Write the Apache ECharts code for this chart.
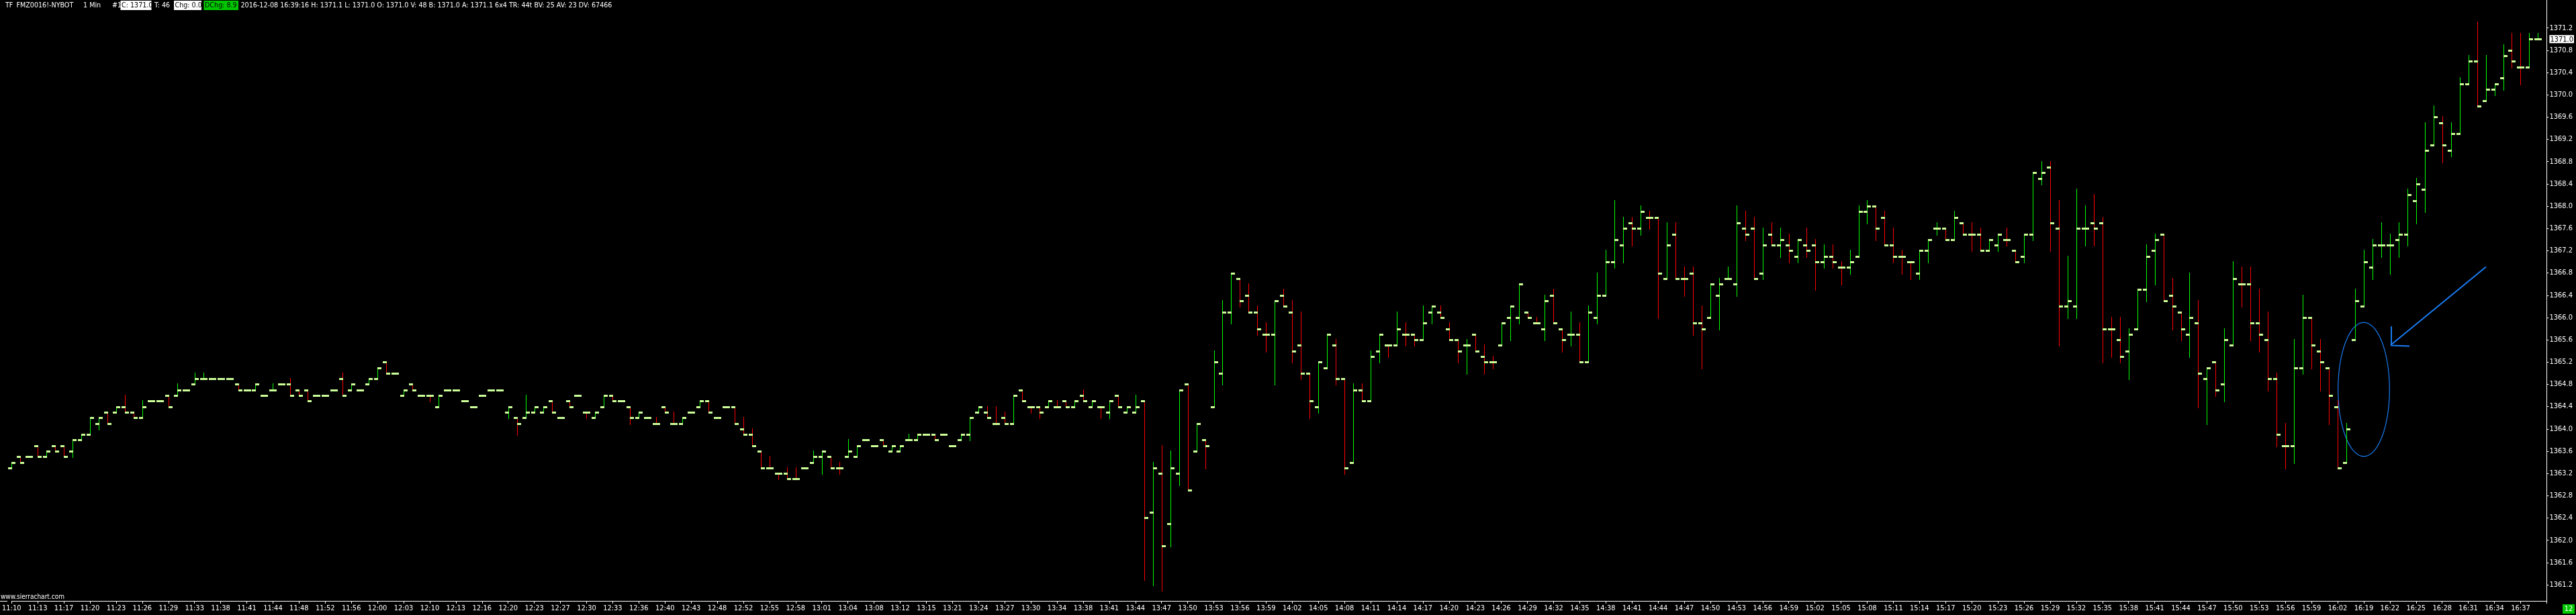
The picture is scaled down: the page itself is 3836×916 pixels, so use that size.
<!DOCTYPE html>
<html>
<head>
<meta charset="utf-8">
<title>TF FMZ0016!-NYBOT 1 Min</title>
<script src="https://cdn.jsdelivr.net/npm/echarts@6/dist/echarts.min.js"></script>
<style>
  html, body { margin: 0; padding: 0; background: #000; }
  #chart { width: 3836px; height: 916px; }
</style>
</head>
<body>
<div id="chart"></div>
<script>
// bar times (one bar per traded minute)
const times = ('11:10 11:11 11:12 11:13 11:14 11:16 11:17 11:18 11:19 11:20 11:21 11:22 11:23 11:24 11:25 11:26 11:27 11:28 11:29 11:30 ' +
  '11:32 11:33 11:35 11:37 11:38 11:39 11:40 11:41 11:42 11:43 11:44 11:46 11:47 11:48 11:50 11:51 11:52 11:54 11:55 11:56 ' +
  '11:58 11:59 12:00 12:01 12:02 12:03 12:05 12:08 12:10 12:11 12:12 12:13 12:14 12:15 12:16 12:18 12:19 12:20 12:21 12:22 ' +
  '12:23 12:25 12:26 12:27 12:28 12:29 12:30 12:31 12:32 12:33 12:34 12:35 12:36 12:38 12:39 12:40 12:41 12:42 12:43 12:45 ' +
  '12:47 12:48 12:50 12:51 12:52 12:53 12:54 12:55 12:56 12:57 12:58 12:59 13:00 13:01 13:02 13:03 13:04 13:06 13:07 13:08 ' +
  '13:10 13:11 13:12 13:13 13:14 13:15 13:17 13:19 13:21 13:22 13:23 13:24 13:25 13:26 13:27 13:28 13:29 13:30 13:32 13:33 ' +
  '13:34 13:36 13:37 13:38 13:39 13:40 13:41 13:42 13:43 13:44 13:45 13:46 13:47 13:48 13:49 13:50 13:51 13:52 13:53 13:54 ' +
  '13:55 13:56 13:57 13:58 13:59 14:00 14:01 14:02 14:03 14:04 14:05 14:06 14:07 14:08 14:09 14:10 14:11 14:12 14:13 14:14 ' +
  '14:15 14:16 14:17 14:18 14:19 14:20 14:21 14:22 14:23 14:24 14:25 14:26 14:27 14:28 14:29 14:30 14:31 14:32 14:33 14:34 ' +
  '14:35 14:36 14:37 14:38 14:39 14:40 14:41 14:42 14:43 14:44 14:45 14:46 14:47 14:48 14:49 14:50 14:51 14:52 14:53 14:54 ' +
  '14:55 14:56 14:57 14:58 14:59 15:00 15:01 15:02 15:03 15:04 15:05 15:06 15:07 15:08 15:09 15:10 15:11 15:12 15:13 15:14 ' +
  '15:15 15:16 15:17 15:18 15:19 15:20 15:21 15:22 15:23 15:24 15:25 15:26 15:27 15:28 15:29 15:30 15:31 15:32 15:33 15:34 ' +
  '15:35 15:36 15:37 15:38 15:39 15:40 15:41 15:42 15:43 15:44 15:45 15:46 15:47 15:48 15:49 15:50 15:51 15:52 15:53 15:54 ' +
  '15:55 15:56 15:57 15:58 15:59 16:00 16:01 16:02 16:03 16:18 16:19 16:20 16:21 16:22 16:23 16:24 16:25 16:26 16:27 16:28 ' +
  '16:29 16:30 16:31 16:32 16:33 16:34 16:35 16:36 16:37 16:38 16:39').split(' ');

const opens = [
  1363.3,1363.5,1363.5,1363.7,1363.5,1363.7,1363.7,1363.6,1363.8,1363.9,
  1364.1,1364.3,1364.3,1364.4,1364.3,1364.2,1364.5,1364.5,1364.6,1364.6,
  1364.7,1364.8,1364.9,1364.9,1364.9,1364.9,1364.8,1364.7,1364.7,1364.6,
  1364.7,1364.8,1364.8,1364.7,1364.7,1364.6,1364.6,1364.7,1364.9,1364.7,
  1364.7,1364.8,1364.9,1365.2,1365.0,1364.6,1364.8,1364.6,1364.6,1364.4,
  1364.7,1364.7,1364.5,1364.4,1364.6,1364.7,1364.7,1364.3,1364.2,1364.2,
  1364.3,1364.3,1364.5,1364.2,1364.5,1364.6,1364.3,1364.2,1364.4,1364.6,
  1364.5,1364.4,1364.2,1364.2,1364.1,1364.4,1364.1,1364.1,1364.3,1364.4,
  1364.5,1364.2,1364.4,1364.4,1364.0,1363.9,1363.6,1363.3,1363.2,1363.2,
  1363.1,1363.3,1363.4,1363.5,1363.5,1363.3,1363.5,1363.5,1363.8,1363.7,
  1363.8,1363.6,1363.6,1363.8,1363.8,1363.9,1363.9,1363.9,1363.7,1363.8,
  1363.9,1364.3,1364.3,1364.1,1364.2,1364.1,1364.7,1364.4,1364.4,1364.4,
  1364.4,1364.5,1364.4,1364.6,1364.4,1364.4,1364.3,1364.6,1364.3,1364.3,
  1364.5,1362.5,1363.2,1362.3,1363.2,1364.8,1363.6,1363.8,1364.4,1365.0,
  1366.1,1366.7,1366.4,1366.1,1365.7,1365.7,1366.4,1366.1,1365.5,1365.0,
  1364.4,1365.1,1365.5,1364.9,1363.4,1364.7,1364.5,1365.4,1365.5,1365.5,
  1365.7,1365.7,1365.6,1366.1,1366.1,1365.8,1365.6,1365.5,1365.7,1365.3,
  1365.2,1365.5,1366.0,1366.0,1366.1,1365.9,1365.8,1366.4,1365.8,1365.7,
  1365.7,1365.2,1366.0,1366.4,1367.0,1367.3,1367.7,1367.6,1367.8,1367.8,
  1366.7,1367.5,1366.7,1366.8,1365.9,1366.0,1366.4,1366.7,1366.6,1367.6,
  1367.6,1366.8,1367.5,1367.3,1367.3,1367.1,1367.3,1367.3,1367.0,1367.1,
  1366.9,1366.9,1367.1,1367.9,1368.0,1367.8,1367.3,1367.1,1367.0,1366.8,
  1367.2,1367.6,1367.6,1367.4,1367.7,1367.5,1367.5,1367.2,1367.3,1367.4,
  1367.2,1367.1,1367.5,1368.5,1368.7,1367.6,1366.2,1366.2,1367.6,1367.7,
  1367.7,1365.8,1365.6,1365.4,1365.8,1366.5,1367.2,1367.5,1366.4,1366.1,
  1365.7,1365.9,1364.9,1365.2,1364.8,1365.5,1366.6,1366.6,1365.9,1365.6,
  1364.9,1363.7,1363.7,1365.1,1366.0,1365.4,1365.1,1364.4,1363.4,1365.6,
  1366.2,1366.9,1367.3,1367.3,1367.4,1367.5,1368.1,1368.3,1369.1,1369.5,
  1369.0,1369.3,1370.2,1370.6,1369.9,1370.1,1370.3,1370.8,1370.5,1370.5,1371.0
];
const highs = [
  1363.4,1363.5,1363.5,1363.7,1363.6,1363.7,1363.7,1363.8,1363.9,1364.2,
  1364.2,1364.3,1364.4,1364.6,1364.3,1364.5,1364.5,1364.5,1364.6,1364.8,
  1364.7,1365.0,1365.0,1364.9,1364.9,1364.9,1364.8,1364.7,1364.8,1364.6,
  1364.8,1364.8,1364.9,1364.7,1364.7,1364.6,1364.6,1364.7,1365.0,1364.8,
  1364.7,1364.9,1365.1,1365.2,1365.0,1364.7,1364.8,1364.6,1364.6,1364.6,
  1364.7,1364.7,1364.5,1364.4,1364.6,1364.7,1364.7,1364.4,1364.2,1364.6,
  1364.4,1364.4,1364.5,1364.2,1364.5,1364.6,1364.3,1364.3,1364.6,1364.6,
  1364.5,1364.4,1364.3,1364.2,1364.2,1364.4,1364.3,1364.2,1364.3,1364.5,
  1364.5,1364.2,1364.4,1364.4,1364.2,1364.0,1363.6,1363.5,1363.2,1363.3,
  1363.3,1363.3,1363.6,1363.6,1363.5,1363.4,1363.8,1363.7,1363.8,1363.7,
  1363.8,1363.7,1363.7,1363.9,1363.9,1363.9,1363.9,1363.9,1363.7,1363.9,
  1364.2,1364.4,1364.4,1364.4,1364.3,1364.6,1364.7,1364.4,1364.4,1364.5,
  1364.5,1364.5,1364.5,1364.7,1364.5,1364.4,1364.5,1364.6,1364.4,1364.6,
  1364.5,1363.4,1363.7,1363.6,1364.7,1364.8,1364.1,1363.8,1365.4,1366.3,
  1366.8,1366.7,1366.6,1366.2,1365.9,1366.3,1366.5,1366.3,1366.1,1365.0,
  1365.2,1365.7,1365.6,1364.9,1364.8,1364.8,1365.4,1365.7,1365.5,1366.1,
  1365.9,1365.7,1366.2,1366.2,1366.2,1365.9,1365.6,1365.6,1365.7,1365.5,
  1365.3,1365.9,1366.2,1366.6,1366.1,1366.0,1366.4,1366.5,1365.8,1366.1,
  1365.9,1366.2,1366.8,1367.2,1368.1,1367.8,1367.8,1368.0,1367.9,1367.8,
  1367.7,1367.7,1366.9,1366.9,1366.2,1366.6,1366.7,1366.9,1368.0,1367.9,
  1367.8,1367.6,1367.7,1367.6,1367.5,1367.4,1367.6,1367.4,1367.3,1367.3,
  1367.0,1367.2,1368.0,1368.1,1368.0,1367.9,1367.6,1367.2,1367.0,1367.2,
  1367.4,1367.7,1367.6,1367.9,1367.7,1367.7,1367.6,1367.4,1367.5,1367.6,
  1367.2,1367.5,1368.6,1368.8,1368.8,1368.1,1367.1,1368.3,1368.0,1368.2,
  1367.8,1366.0,1366.0,1365.8,1366.5,1367.3,1367.5,1367.5,1366.7,1366.1,
  1366.8,1366.3,1365.1,1365.2,1365.8,1367.0,1366.9,1366.9,1366.5,1366.1,
  1365.0,1364.1,1365.6,1366.4,1366.0,1365.6,1365.1,1364.5,1364.1,1366.5,
  1367.2,1367.4,1367.7,1367.5,1367.7,1368.3,1368.5,1369.5,1369.8,1369.6,
  1369.5,1370.3,1370.7,1371.3,1370.7,1370.2,1370.9,1371.1,1371.1,1371.1,1371.1
];
const lows = [
  1363.3,1363.4,1363.5,1363.5,1363.5,1363.6,1363.5,1363.5,1363.8,1363.9,
  1364.0,1364.1,1364.3,1364.3,1364.2,1364.2,1364.5,1364.5,1364.4,1364.6,
  1364.7,1364.8,1364.9,1364.9,1364.9,1364.9,1364.7,1364.7,1364.7,1364.6,
  1364.7,1364.8,1364.6,1364.6,1364.5,1364.6,1364.6,1364.7,1364.6,1364.7,
  1364.7,1364.8,1364.9,1365.0,1365.0,1364.6,1364.7,1364.6,1364.5,1364.4,
  1364.7,1364.7,1364.5,1364.4,1364.6,1364.7,1364.7,1364.2,1363.9,1364.2,
  1364.3,1364.3,1364.3,1364.2,1364.4,1364.6,1364.2,1364.2,1364.4,1364.5,
  1364.5,1364.1,1364.2,1364.2,1364.1,1364.3,1364.1,1364.1,1364.3,1364.4,
  1364.3,1364.2,1364.4,1364.1,1363.9,1363.7,1363.3,1363.3,1363.1,1363.1,
  1363.1,1363.3,1363.4,1363.2,1363.3,1363.2,1363.5,1363.5,1363.8,1363.7,
  1363.7,1363.6,1363.6,1363.8,1363.8,1363.9,1363.8,1363.9,1363.7,1363.8,
  1363.8,1364.3,1364.2,1364.1,1364.1,1364.1,1364.5,1364.3,1364.2,1364.4,
  1364.4,1364.4,1364.4,1364.5,1364.4,1364.2,1364.2,1364.4,1364.3,1364.3,
  1361.3,1361.2,1361.1,1361.9,1363.0,1362.9,1363.6,1363.3,1364.4,1364.8,
  1365.9,1366.2,1366.1,1365.7,1365.4,1364.8,1366.2,1365.2,1364.9,1364.2,
  1364.3,1365.1,1364.8,1363.2,1363.4,1364.5,1364.5,1365.2,1365.3,1365.5,
  1365.5,1365.5,1365.6,1365.9,1366.0,1365.6,1365.2,1365.0,1365.4,1365.0,
  1365.1,1365.5,1365.6,1365.9,1366.0,1365.9,1365.6,1365.9,1365.4,1365.5,
  1365.2,1365.2,1365.9,1366.4,1366.9,1367.0,1367.3,1367.5,1367.6,1366.0,
  1366.7,1366.7,1366.4,1365.7,1365.1,1366.0,1365.8,1366.7,1366.4,1367.4,
  1366.7,1366.7,1367.3,1367.1,1367.0,1367.0,1367.1,1366.5,1366.9,1366.9,
  1366.6,1366.8,1367.1,1367.7,1367.4,1367.3,1367.0,1366.8,1366.7,1366.7,
  1367.0,1367.5,1367.4,1367.4,1367.5,1367.2,1367.2,1367.2,1367.2,1367.3,
  1367.0,1367.0,1367.4,1368.4,1367.2,1365.5,1366.0,1366.0,1367.3,1367.3,
  1365.2,1365.3,1365.2,1364.9,1365.8,1366.3,1366.6,1366.3,1365.8,1365.6,
  1365.3,1364.4,1364.1,1364.6,1364.5,1365.5,1366.2,1365.6,1365.4,1364.7,
  1363.7,1363.3,1363.4,1365.0,1365.1,1364.7,1364.1,1363.3,1363.4,1365.6,
  1366.2,1366.7,1367.1,1366.8,1367.1,1367.3,1367.7,1367.9,1369.1,1368.8,
  1368.9,1369.3,1370.2,1369.8,1369.9,1370.0,1370.1,1370.5,1370.2,1370.5,1371.0
];
const closes = [
  1363.4,1363.4,1363.5,1363.5,1363.6,1363.6,1363.5,1363.8,1363.9,1364.2,
  1364.2,1364.1,1364.4,1364.3,1364.2,1364.4,1364.5,1364.5,1364.4,1364.7,
  1364.7,1364.9,1364.9,1364.9,1364.9,1364.9,1364.7,1364.7,1364.8,1364.6,
  1364.7,1364.8,1364.6,1364.6,1364.5,1364.6,1364.6,1364.7,1364.6,1364.8,
  1364.7,1364.9,1365.1,1365.0,1365.0,1364.7,1364.7,1364.6,1364.6,1364.6,
  1364.7,1364.7,1364.5,1364.4,1364.6,1364.7,1364.7,1364.4,1364.1,1364.3,
  1364.4,1364.4,1364.3,1364.2,1364.4,1364.6,1364.3,1364.3,1364.6,1364.5,
  1364.5,1364.2,1364.3,1364.2,1364.1,1364.3,1364.1,1364.2,1364.3,1364.5,
  1364.3,1364.2,1364.4,1364.1,1363.9,1363.7,1363.3,1363.3,1363.2,1363.1,
  1363.1,1363.3,1363.5,1363.6,1363.3,1363.3,1363.6,1363.7,1363.8,1363.7,
  1363.7,1363.7,1363.7,1363.8,1363.9,1363.9,1363.8,1363.9,1363.7,1363.9,
  1364.2,1364.4,1364.2,1364.1,1364.1,1364.6,1364.5,1364.4,1364.3,1364.5,
  1364.4,1364.4,1364.5,1364.5,1364.5,1364.4,1364.5,1364.4,1364.4,1364.4,
  1362.4,1363.3,1361.9,1363.3,1364.7,1362.9,1364.1,1363.7,1365.2,1366.1,
  1366.8,1366.3,1366.1,1365.8,1365.7,1366.3,1366.2,1365.4,1365.0,1364.5,
  1365.2,1365.7,1364.9,1363.3,1364.7,1364.5,1365.3,1365.7,1365.5,1365.8,
  1365.7,1365.6,1365.9,1366.2,1366.0,1365.6,1365.4,1365.5,1365.4,1365.2,
  1365.2,1365.9,1366.2,1366.6,1366.0,1365.9,1366.3,1365.9,1365.6,1365.7,
  1365.2,1366.1,1366.4,1367.0,1367.4,1367.6,1367.6,1367.9,1367.8,1366.8,
  1367.3,1366.7,1366.7,1365.9,1365.8,1366.6,1366.6,1366.7,1367.7,1367.5,
  1366.7,1367.3,1367.3,1367.4,1367.2,1367.4,1367.2,1367.0,1367.1,1367.0,
  1366.9,1367.0,1367.9,1368.0,1367.6,1367.3,1367.1,1367.1,1367.0,1367.2,
  1367.4,1367.6,1367.4,1367.8,1367.5,1367.5,1367.2,1367.4,1367.5,1367.4,
  1367.0,1367.5,1368.6,1368.6,1367.7,1366.2,1366.3,1367.6,1367.6,1367.6,
  1365.8,1365.8,1365.3,1365.7,1366.5,1367.1,1367.4,1366.3,1366.2,1365.8,
  1366.0,1365.0,1365.1,1364.7,1365.6,1366.7,1366.6,1365.9,1365.7,1364.9,
  1363.9,1363.7,1365.1,1366.0,1365.5,1365.2,1364.6,1363.3,1364.0,1366.3,
  1367.0,1367.3,1367.3,1367.3,1367.5,1368.2,1368.4,1369.0,1369.6,1369.1,
  1369.3,1370.2,1370.6,1369.8,1370.1,1370.2,1370.7,1370.6,1370.5,1371.0,1371.0
];

// right price scale labels
const priceTicks = [1361.2, 1361.6, 1362.0, 1362.4, 1362.8, 1363.2, 1363.6, 1364.0, 1364.4,
  1364.8, 1365.2, 1365.6, 1366.0, 1366.4, 1366.8, 1367.2, 1367.6, 1368.0, 1368.4, 1368.8,
  1369.2, 1369.6, 1370.0, 1370.4, 1370.8, 1371.2];

const lastClose = closes[closes.length - 1];
const headerLeft = ['TF', 'FMZ0016!-NYBOT', '1 Min', '#1'];
const headerRest = '2016-12-08 16:39:16 H: 1371.1 L: 1371.0 O: 1371.0 V: 48 B: 1371.0 A: 1371.1 6x4 TR: 44t BV: 25 AV: 23 DV: 67466';

const FONT = '"DejaVu Sans Condensed", "Liberation Sans Narrow", sans-serif';
const HFONT = '10.65px ' + FONT;
const UP = '#00ff00', DOWN = '#ff0000', TICK = '#ccff99', BLUE = '#1a7cf5';

// bar colour: close vs open, then close vs prior close, else keep previous colour
const barColors = [];
for (let i = 0; i < closes.length; i++) {
  let col;
  if (closes[i] > opens[i]) col = UP;
  else if (closes[i] < opens[i]) col = DOWN;
  else if (i > 0 && closes[i] > closes[i - 1]) col = UP;
  else if (i > 0 && closes[i] < closes[i - 1]) col = DOWN;
  else col = i > 0 ? barColors[i - 1] : UP;
  barColors.push(col);
}

const bars = times.map((t, i) => [i, opens[i], highs[i], lows[i], closes[i]]);

function renderBar(params, api) {
  const i = api.value(0);
  const o = api.value(1), h = api.value(2), l = api.value(3), c = api.value(4);
  const cx = Math.round(api.coord([i, o])[0]);
  const yo = Math.round(api.coord([i, o])[1]);
  const yc = Math.round(api.coord([i, c])[1]);
  const yh = Math.round(api.coord([i, Math.max(h, o, c)])[1]);
  const yl = Math.round(api.coord([i, Math.min(l, o, c)])[1]);
  return {
    type: 'group',
    children: [
      { type: 'rect', shape: { x: cx, y: yh - 1, width: 1, height: yl - yh + 3 }, style: { fill: barColors[i] } },
      { type: 'rect', shape: { x: cx - 5, y: yo - 1, width: 6, height: 3 }, style: { fill: TICK } },
      { type: 'rect', shape: { x: cx, y: yc - 1, width: 6, height: 3 }, style: { fill: TICK } }
    ]
  };
}

// annotation ellipse drawn on the chart
const ellipsePts = [];
for (let k = 0; k <= 120; k++) {
  const a = k / 120 * Math.PI * 2;
  ellipsePts.push([3520 + 38.3 * Math.cos(a), 580 + 99.7 * Math.sin(a)]);
}

function headerText(x, text, fill) {
  return { type: 'text', x: x, y: 8, style: { text: text, fill: fill || '#ffffff', font: HFONT, verticalAlign: 'middle' } };
}

const chart = echarts.init(document.getElementById('chart'));
chart.setOption({
  backgroundColor: '#000000',
  animation: false,
  grid: { left: 10, right: 43, top: 0, bottom: 21 },
  xAxis: {
    type: 'category',
    data: times.concat(['']),
    boundaryGap: false,
    axisLine: { lineStyle: { color: '#ffffff', width: 1 } },
    axisTick: { interval: 2, length: 4, lineStyle: { color: '#ffffff' } },
    axisLabel: { interval: 2, color: '#ffffff', fontFamily: FONT, fontSize: 11, margin: 6 },
    splitLine: { show: false }
  },
  yAxis: {
    type: 'value',
    position: 'right',
    min: 1360.9106,
    max: 1371.7028,
    axisLine: { show: true, lineStyle: { color: '#ffffff', width: 1 } },
    axisTick: { show: true, length: 3, customValues: priceTicks, lineStyle: { color: '#ffffff' } },
    axisLabel: {
      customValues: priceTicks.concat([lastClose]),
      color: '#ffffff', fontFamily: FONT, fontSize: 11, margin: 4,
      formatter: v => Math.abs(v - lastClose) < 1e-6 ? '{cur|' + v.toFixed(1) + '}' : v.toFixed(1),
      rich: { cur: { backgroundColor: '#ffffff', color: '#000000', fontFamily: FONT, fontSize: 11, padding: [1, 1, 0, 1] } }
    },
    splitLine: { show: false }
  },
  series: [{
    type: 'custom',
    clip: false,
    renderItem: renderBar,
    encode: { x: 0, y: [1, 2, 3, 4] },
    data: bars
  }],
  graphic: [
    { type: 'line', shape: { x1: 0, y1: 895.5, x2: 11, y2: 895.5 }, style: { stroke: '#ffffff', lineWidth: 1 } },
    headerText(8, headerLeft[0]),
    headerText(24.5, headerLeft[1]),
    headerText(124, headerLeft[2]),
    headerText(167, headerLeft[3]),
    { type: 'rect', shape: { x: 179.5, y: 1, width: 46, height: 14 }, style: { fill: '#ffffff' } },
    headerText(181, 'C: ' + lastClose.toFixed(1), '#000000'),
    headerText(230, 'T: 46'),
    { type: 'rect', shape: { x: 259, y: 1, width: 41, height: 14 }, style: { fill: '#ffffff' } },
    headerText(260.5, 'Chg: 0.0', '#000000'),
    { type: 'rect', shape: { x: 303.5, y: 1, width: 51.5, height: 14 }, style: { fill: '#00c800' } },
    headerText(305, 'DChg: 8.9', '#000000'),
    headerText(358.5, headerRest),
    { type: 'text', x: 1, y: 889.5, style: { text: 'www.sierrachart.com', fill: '#ffffff', font: '10px ' + FONT, verticalAlign: 'middle' } },
    { type: 'rect', shape: { x: 3816, y: 900, width: 18, height: 14 }, style: { fill: '#00c800' } },
    { type: 'text', x: 3825, y: 907, style: { text: '12', fill: '#ffffff', font: '11px ' + FONT, align: 'center', verticalAlign: 'middle' } },
    { type: 'polyline', shape: { points: ellipsePts }, style: { stroke: BLUE, lineWidth: 1.2, fill: null } },
    { type: 'line', shape: { x1: 3702, y1: 397.5, x2: 3560, y2: 514 }, style: { stroke: BLUE, lineWidth: 2 } },
    { type: 'polyline', shape: { points: [[3561, 486], [3561, 514.5], [3588, 515.5]] }, style: { stroke: BLUE, lineWidth: 2, fill: null } }
  ]
});
</script>
</body>
</html>
